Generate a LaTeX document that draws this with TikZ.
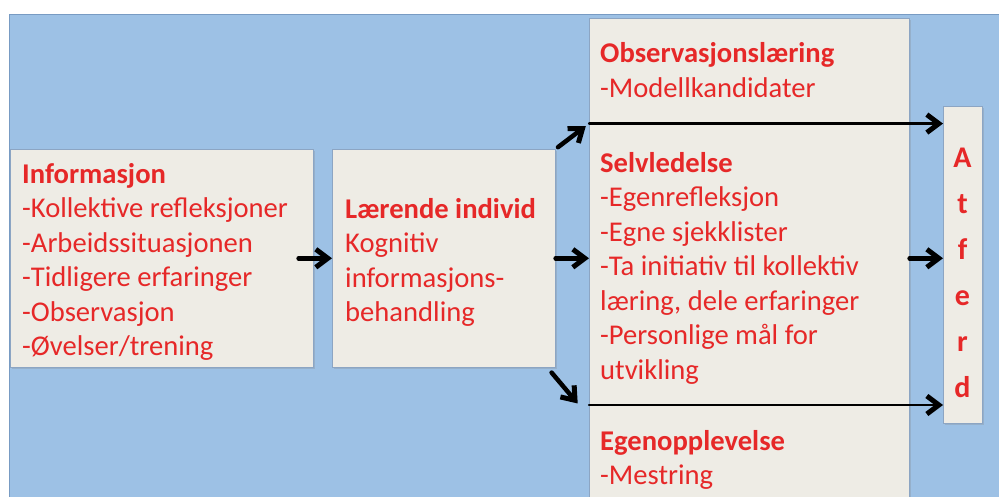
\documentclass[tikz,border=0pt]{standalone}
\usepackage{fontspec}
\setmainfont{Carlito}
\usepackage{tikz}
\usetikzlibrary{positioning,calc,arrows.meta,shadows}
\definecolor{backblue}{RGB}{157,193,229}
\definecolor{backline}{RGB}{120,155,195}
\definecolor{boxfill}{RGB}{238,236,229}
\definecolor{boxline}{RGB}{140,165,195}
\definecolor{textred}{RGB}{230,40,40}
\tikzset{
	learning model/.style={
		x=1pt,y=-1pt, % one unit is one pixel of the slide
		font=\fontsize{28.6}{34.5}\selectfont
	},
	stage box/.style={
		rectangle,
		draw=boxline,
		line width=0.6pt,
		fill=boxfill,
		anchor=north west,
		inner sep=0pt,
		drop shadow={shadow xshift=1.5pt,shadow yshift=-1.5pt,opacity=.25}
	},
	stage text/.style={
		anchor=base west, % base is the last line here
		align=left,
		inner sep=0pt,
		text=textred
	},
	atferd text/.style={
		anchor=base,
		align=center,
		inner sep=0pt,
		text=textred,
		font=\fontsize{30}{46}\selectfont\bfseries
	},
	flow arrow/.style={
		-{Straight Barb[length=12pt,width=18pt,line width=5pt]},
		line width=4.5pt,
		line cap=round
	},
	thin flow arrow/.style={
		flow arrow,
		line width=2.2pt
	}
}

\begin{document}
\begin{tikzpicture}[learning model]
	\useasboundingbox (0,0) rectangle (999,497);
	\clip (0,0) rectangle (999,497);
	\fill[white] (0,0) rectangle (999,497);
	\filldraw[fill=backblue,draw=backline,line width=0.8pt] (9,14) rectangle (1010,510);

	% boxes
	\node[stage box,minimum width=303pt,minimum height=218pt] (info) at (10,149) {};
	\node[stage box,minimum width=223pt,minimum height=218pt] (individ) at (332,149) {};
	\node[stage box,minimum width=320pt,minimum height=105pt] (obs) at (589,18) {};
	\node[stage box,minimum width=320pt,minimum height=282pt] (selv) at (589,123) {};
	\node[stage box,minimum width=320pt,minimum height=130pt] (egen) at (589,405) {};
	\node[stage box,minimum width=39pt,minimum height=317pt] (atferd) at (943,106) {};

	% texts
	\node[stage text] (infotext) at (22,355.5) {\textbf{Informasjon}\\-Kollektive refleksjoner\\-Arbeidssituasjonen\\-Tidligere erfaringer\\-Observasjon\\-Øvelser/trening};
	\node[stage text] (individtext) at (345,321.5) {\textbf{Lærende individ}\\Kognitiv\\informasjons-\\behandling};
	\node[stage text] (obstext) at (600,97.5) {\textbf{Observasjonslæring}\\-Modellkandidater};
	\node[stage text] (selvtext) at (600,379) {\textbf{Selvledelse}\\-Egenrefleksjon\\-Egne sjekklister\\-Ta initiativ til kollektiv\\læring, dele erfaringer\\-Personlige mål for\\utvikling};
	\node[stage text] (egentext) at (600,484.5) {\textbf{Egenopplevelse}\\-Mestring};
	\node[atferd text] (atferdtext) at (962.5,397) {A\\t\\f\\e\\r\\d};

	% arrows
	\draw[flow arrow] ([xshift=-15pt]info.east) -- (individ.west);
	\draw[flow arrow,shorten <=3pt,shorten >=4pt] (individ.north east) -- (obs.south west);
	\draw[flow arrow] (individ.east) -- (selv.west |- individ.east);
	\draw[flow arrow,shorten >=2pt] ($(individ.south east)+(-4,5)$) -- ($(egen.north west)+(-10,0)$);
	\draw[thin flow arrow] (obs.south west) -- (atferd.west |- obs.south);
	\draw[flow arrow] (selv.east |- individ.east) -- (atferd.west |- individ.east);
	\draw[thin flow arrow] (egen.north west) -- (atferd.west |- egen.north);
\end{tikzpicture}
\end{document}
